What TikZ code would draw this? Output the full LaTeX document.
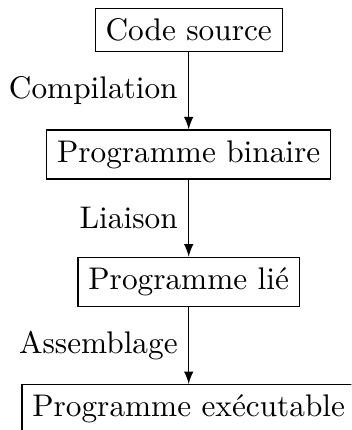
\documentclass[tikz,border=0pt]{standalone}
\usetikzlibrary{positioning}

\begin{document}
\begin{tikzpicture}[node distance=24.6pt, >=latex,
    etape/.style={draw, inner sep=3.33pt}]
  \useasboundingbox (-60.3pt,9.6pt) rectangle (52pt,-127.8pt);
  \clip (-60.3pt,9.6pt) rectangle (52pt,-127.8pt);
    \node [etape] (source) {Code source};
    \node [etape, below=of source] (binaire) {Programme binaire};
    \node [etape, below=of binaire] (lie) {Programme lié};
    \node [etape, below=of lie] (exec) {Programme exécutable};

    \draw [->] (source) -- node [left] {Compilation} (binaire);
    \draw [->] (binaire) -- node [left] {Liaison} (lie);
    \draw [->] (lie) -- node [left] {Assemblage} (exec);
\end{tikzpicture}
\end{document}
